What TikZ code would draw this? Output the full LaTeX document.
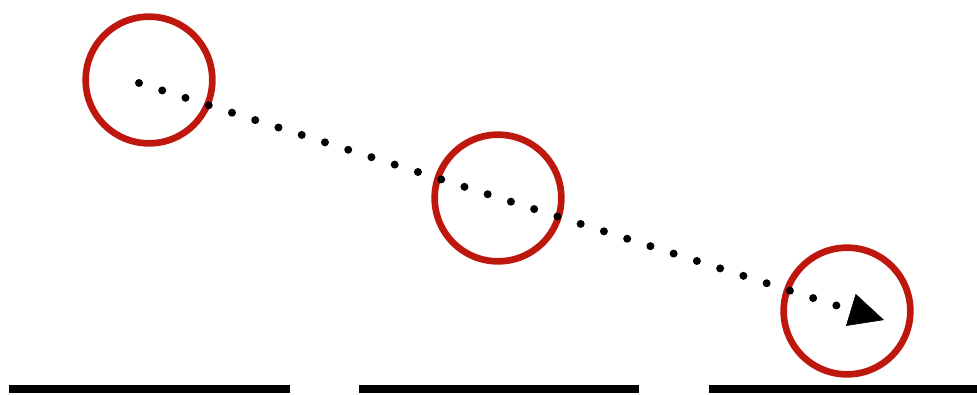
\documentclass[tikz,border=0pt]{standalone}
\usetikzlibrary{arrows.meta,calc}
\definecolor{ringred}{RGB}{190,24,14}
\begin{document}
\begin{tikzpicture}[x=0.75pt,y=-0.75pt]
\tikzset{
  ring/.style={circle,draw=ringred,line width=5pt,minimum size=95pt,inner sep=0pt},
  dotpath/.style={line width=6pt,line cap=round,dash pattern=on 0pt off 18.3pt},
  tiphead/.style={-{Triangle[length=26pt,width=25pt]},line width=0.4pt},
  floor/.style={line width=6pt}
}
\useasboundingbox (0,0) rectangle (977,394);
\node[ring] (n_R0) at (149,80) {};
\node[ring] (n_R1) at (498,198) {};
\node[ring] (n_R2) at (847,311) {};
\coordinate (p_start) at (139,83);
\coordinate (p_end) at (838,306);
\coordinate (p_tip) at (884,320);
\coordinate (p_base) at ($(p_tip)!26pt!(p_end)$);
\draw[dotpath] (p_start) -- (p_end);
\draw[tiphead] (p_base) -- (p_tip);
\coordinate (f_A0) at (9,389);
\coordinate (f_A1) at (290,389);
\coordinate (f_B0) at (359,389);
\coordinate (f_B1) at (639,389);
\coordinate (f_C0) at (709,389);
\coordinate (f_C1) at (977,389);
\draw[floor] (f_A0) -- (f_A1);
\draw[floor] (f_B0) -- (f_B1);
\draw[floor] (f_C0) -- (f_C1);
\end{tikzpicture}
\end{document}
